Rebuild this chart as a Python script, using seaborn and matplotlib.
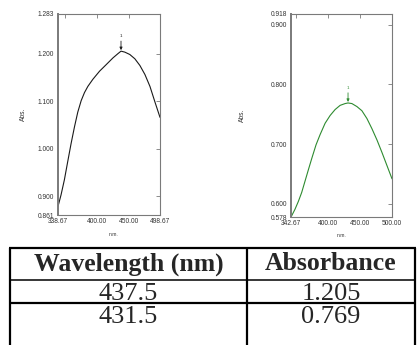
"""
Two UV-Vis absorbance spectra side by side, with a peak table underneath.
"""

import matplotlib
matplotlib.use("Agg")
import matplotlib.pyplot as plt
import seaborn as sns

# Spectrum 1 (black): wavelength (nm) -> absorbance
spec1_wl = [338.67, 343.4, 348.7, 353.9, 359.2, 364.5, 369.7, 375.0, 380.2, 385.5,
            393.4, 403.9, 414.5, 425.0, 432.9, 437.5, 443.4, 451.3, 459.2, 467.1,
            475.0, 482.9, 490.8, 498.67]
spec1_abs = [0.879, 0.903, 0.935, 0.973, 1.011, 1.046, 1.077, 1.101, 1.118, 1.131,
             1.146, 1.163, 1.177, 1.191, 1.200, 1.205, 1.203, 1.198, 1.189, 1.175,
             1.156, 1.131, 1.098, 1.066]

# Spectrum 2 (green)
spec2_wl = [342.67, 343.7, 348.9, 354.1, 359.3, 364.5, 369.7, 375.0, 381.7, 388.0,
            395.8, 403.6, 411.4, 419.2, 427.0, 431.5, 437.5, 445.3, 453.1, 460.9,
            468.7, 476.6, 484.4, 492.2, 500.0]
spec2_abs = [0.578, 0.580, 0.591, 0.604, 0.619, 0.638, 0.657, 0.676, 0.699, 0.716,
             0.735, 0.748, 0.758, 0.765, 0.768, 0.769, 0.768, 0.763, 0.756, 0.743,
             0.726, 0.707, 0.686, 0.664, 0.642]

# Axis ranges and ticks as printed by the instrument software
spec1_xlim = (338.67, 498.67)
spec1_ylim = (0.861, 1.283)
spec2_xlim = (342.67, 500.00)
spec2_ylim = (0.578, 0.918)
spec1_xticks = [338.67, 350, 400, 450, 498.67]
spec1_xlabels = ["338.67", "", "400.00", "450.00", "498.67"]
spec2_xticks = [342.67, 350, 400, 450, 500.00]
spec2_xlabels = ["342.67", "", "400.00", "450.00", "500.00"]
spec1_yticks = [0.861, 0.900, 1.000, 1.100, 1.200, 1.283]
spec2_yticks = [0.578, 0.600, 0.700, 0.800, 0.900, 0.918]

# Peak table
table_header = ["Wavelength (nm)", "Absorbance"]
peak_wl = [437.5, 431.5]
peak_abs = [1.205, 0.769]
peak_labels = ["1", "1"]

sns.set_style("white")
plt.rcParams["font.family"] = ["Liberation Sans", "DejaVu Sans"]

TICK_COLOR = "#333333"
SPINE_COLOR = "#7a7a7a"
SMALL = 4.8

fig = plt.figure(figsize=(4.2, 3.45), dpi=100)
W, H = 420, 345


def px_axes(left, top, right, bottom):
    return fig.add_axes([left / W, 1 - bottom / H, (right - left) / W, (bottom - top) / H])


def style_spectrum(ax, xlim, ylim, xticks, xlabels, yticks, ylab_x, xlab_x, xlab_y):
    ax.set_xlim(*xlim)
    ax.set_ylim(*ylim)
    ax.set_xticks(xticks)
    ax.set_xticklabels(xlabels)
    ax.set_yticks(yticks)
    ax.set_yticklabels([f"{v:.3f}" for v in yticks])
    ax.tick_params(direction="in", top=True, right=True, length=3, width=0.6,
                   color=SPINE_COLOR, labelcolor=TICK_COLOR, labelsize=SMALL)
    ax.tick_params(axis="x", pad=2.5)
    ax.tick_params(axis="y", pad=3)
    for side, sp in ax.spines.items():
        sp.set_visible(True)
        sp.set_color(SPINE_COLOR)
        sp.set_linewidth(1.4 if side == "left" else 0.8)
    ax.set_ylabel("Abs.", fontsize=SMALL, color=TICK_COLOR)
    ax.set_xlabel("n.m.", fontsize=3.6, color=TICK_COLOR)
    ax.yaxis.set_label_coords(ylab_x, 0.5)
    ax.xaxis.set_label_coords(xlab_x, xlab_y)


def mark_peak(ax, x, y, label, color, span):
    ax.annotate("", xy=(x, y + span * 0.005), xytext=(x, y + span * 0.05),
                arrowprops=dict(arrowstyle="-|>", lw=0.6, color=color,
                                mutation_scale=4, shrinkA=0, shrinkB=0))
    ax.text(x, y + span * 0.075, label, fontsize=3.2, color=color,
            ha="center", va="center")


# Left spectrum
ax1 = px_axes(58, 14, 160, 215)
sns.lineplot(x=spec1_wl, y=spec1_abs, ax=ax1, color="#1a1a1a", linewidth=0.8)
style_spectrum(ax1, spec1_xlim, spec1_ylim, spec1_xticks, spec1_xlabels, spec1_yticks,
               -0.30, 0.54, -0.085)
mark_peak(ax1, peak_wl[0], peak_abs[0], peak_labels[0], "#1a1a1a",
          spec1_ylim[1] - spec1_ylim[0])

# Right spectrum
ax2 = px_axes(291, 14, 392, 217)
sns.lineplot(x=spec2_wl, y=spec2_abs, ax=ax2, color="#2e8b30", linewidth=0.8)
style_spectrum(ax2, spec2_xlim, spec2_ylim, spec2_xticks, spec2_xlabels, spec2_yticks,
               -0.45, 0.505, -0.079)
mark_peak(ax2, peak_wl[1], peak_abs[1], peak_labels[1], "#2e8b30",
          spec2_ylim[1] - spec2_ylim[0])

# Peak table drawn on a pixel-coordinate overlay
axt = fig.add_axes([0, 0, 1, 1], zorder=-1)
axt.set_xlim(0, W)
axt.set_ylim(H, 0)
axt.axis("off")

col_edges = [10, 247, 415]
row_edges = [247.5, 280, 303]
row_lw = [1.6, 1.1, 1.6]
for y, lw in zip(row_edges, row_lw):
    axt.plot([col_edges[0] - 1, col_edges[-1] + 1], [y, y], color="black", lw=lw,
             solid_capstyle="butt")
for x in col_edges:
    axt.plot([x, x], [row_edges[0], H], color="black", lw=1.6, solid_capstyle="butt")

col_centers = [(col_edges[i] + col_edges[i + 1]) / 2 for i in range(2)]
serif = ["Liberation Serif", "DejaVu Serif"]
for cx, txt in zip(col_centers, table_header):
    axt.text(cx, 270.5, txt, family=serif, fontsize=18.5, fontweight="bold",
             ha="center", va="baseline")
for ry, wl, ab in zip([300, 323], peak_wl, peak_abs):
    axt.text(col_centers[0], ry, f"{wl:.1f}", family=serif, fontsize=19,
             ha="center", va="baseline")
    axt.text(col_centers[1], ry, f"{ab:.3f}", family=serif, fontsize=19,
             ha="center", va="baseline")

fig.savefig("out.png", dpi=100)
plt.close(fig)
